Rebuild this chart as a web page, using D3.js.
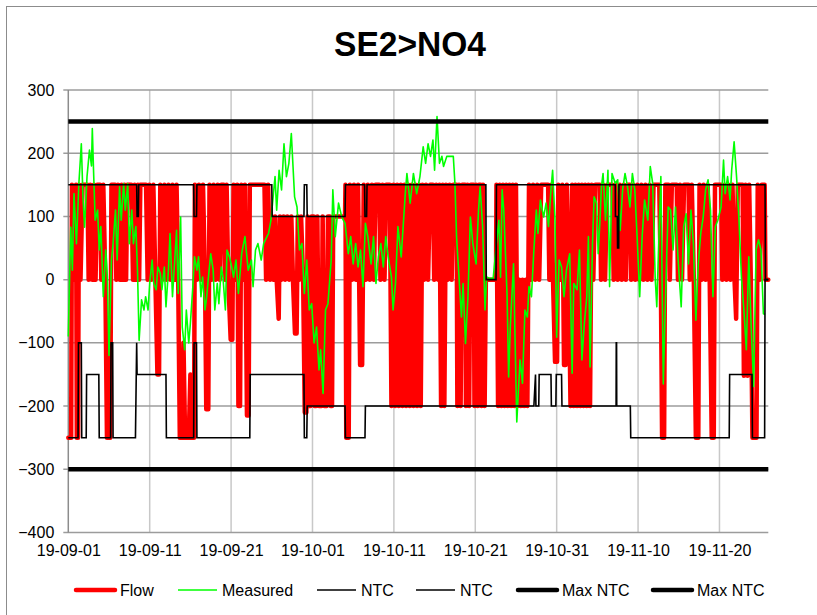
<!DOCTYPE html>
<html><head><meta charset="utf-8">
<script src="https://cdn.jsdelivr.net/npm/d3@7"></script>
<style>
html,body{margin:0;padding:0;background:#fff;}
svg{display:block;}
text{font-family:"Liberation Sans",Arial,sans-serif;}
</style></head>
<body>
<svg id="chart" width="817" height="615"></svg>
<script>
// ---------- DATA ----------
const title = "SE2>NO4";
const startDate = "19-09-01";
const endDay = 86;
const xTickLabels = ["19-09-01","19-09-11","19-09-21","19-10-01","19-10-11","19-10-21","19-10-31","19-11-10","19-11-20"];
const yTicks = [-400,-300,-200,-100,0,100,200,300];
const seriesNames = ["Flow","Measured","NTC","NTC","Max NTC","Max NTC"];
const seriesColors = ["#ff0000","#00ff00","#000000","#000000","#000000","#000000"];

// [day offset from 2019-09-01, MW]
const flow = [[0,-250],[0.35,-250],[0.45,150],[0.7,0],[0.95,150],[1.05,-250],[1.2,-250],[1.3,150],[1.5,0],[1.75,150],[2.35,150],[2.5,0],[2.7,150],[2.95,0],[3.15,150],[3.35,0],[3.55,150],[3.9,150],[4.05,0],[4.3,150],[4.55,0],[4.75,-250],[5.15,-250],[5.3,150],[5.75,150],[5.9,0],[6.1,150],[6.35,0],[6.55,150],[6.75,0],[6.9,150],[7.1,0],[7.25,150],[7.75,150],[7.95,0],[8.15,150],[8.35,0],[8.55,150],[8.7,0],[8.85,150],[9.55,150],[9.75,0],[9.95,150],[10.2,0],[10.45,150],[10.7,0],[10.95,-150],[11.15,-150],[11.3,150],[11.55,0],[11.8,150],[12.05,0],[12.3,150],[12.55,0],[12.8,150],[13.05,0],[13.3,150],[13.5,0],[13.7,-250],[14.0,-250],[14.15,-100],[14.35,-250],[14.8,-250],[15.0,-150],[15.15,-250],[15.45,-250],[15.55,150],[15.8,0],[16.05,150],[16.3,0],[16.55,150],[16.8,0],[16.95,-205],[17.2,-205],[17.35,150],[17.6,0],[17.85,150],[18.1,0],[18.35,150],[18.6,0],[18.8,150],[19.1,150],[19.25,0],[19.45,150],[19.65,0],[19.95,-95],[20.15,-95],[20.3,150],[20.55,0],[20.75,150],[20.9,-200],[21.1,-200],[21.25,150],[21.5,0],[21.7,150],[21.95,-215],[22.15,-215],[22.3,150],[24.1,150],[24.3,0],[24.55,150],[24.8,0],
[25.0,100],[25.2,0],[25.4,100],[25.6,0],[25.85,-62],[26.0,100],[26.2,0],[26.45,100],[26.65,0],[26.9,100],[27.15,0],[27.4,100],[27.6,0],[27.85,-85],[28.05,-85],[28.2,100],[28.4,0],[28.6,100],[28.85,0],[29.05,-210],[29.25,-210],[29.4,100],[29.55,-200],[29.75,-200],[29.9,100],[30.15,100],[30.25,-200],[30.45,-200],[30.6,100],[30.8,-200],[31.1,-200],[31.25,100],[31.45,-200],[31.75,-200],[31.9,100],[32.15,100],[32.25,-200],[32.4,-200],[32.55,100],[34.0,100],
[34.05,150],[34.15,-250],[34.45,-250],[34.6,150],[34.85,0],[35.1,150],[35.35,0],[35.6,150],[35.85,-135],[36.1,-135],[36.3,150],[36.55,0],[36.8,150],[37.05,0],[37.3,150],[37.55,0],[37.75,150],[38.2,150],[38.35,0],[38.6,150],[38.85,0],[39.05,150],[39.5,150],[39.7,-200],[39.95,150],[40.15,-200],[40.4,150],[40.6,-200],[40.85,150],[41.05,-200],[41.3,150],[41.5,-200],[41.75,150],[41.95,-200],[42.2,150],[42.4,-200],[42.65,150],[42.85,-200],[43.1,150],[43.3,-200],[43.5,150],[43.7,0],[43.95,150],[44.2,0],[44.45,150],[44.8,150],[44.95,0],[45.2,150],[45.45,0],[45.6,150],[45.8,-200],[46.0,150],[46.2,-200],[46.4,150],[46.6,0],[46.85,150],[47.1,0],[47.3,150],[47.7,150],[47.8,-200],[48.0,150],[48.2,-200],[48.4,150],[48.75,150],[48.85,-200],[49.05,150],[49.25,-200],[49.45,150],[49.8,150],[49.9,-200],[50.1,150],[50.3,-200],[50.45,150],[50.65,150],[50.75,-200],[50.95,150],[51.15,-200],[51.3,0],[52.55,0],
[52.6,150],[52.8,-200],[53.0,150],[53.2,-200],[53.4,150],[53.6,-200],[53.8,150],[54.0,-200],[54.2,150],[54.4,-200],[54.6,150],[54.8,-200],[55.0,150],[55.2,-200],[55.4,0],[55.6,-200],[55.8,0],[56.0,-200],[56.2,0],[56.4,-200],[56.6,150],[56.85,0],[57.1,150],[57.35,0],[57.6,150],[57.85,0],[58.1,150],[58.95,150],[59.1,0],[59.35,150],[59.55,0],[59.8,-130],[60.05,-130],[60.2,150],[60.45,0],[60.7,150],[60.9,-135],[61.1,-135],[61.25,150],[61.5,0],[61.7,-200],[61.9,150],[62.1,-200],[62.3,150],[62.5,-200],[62.7,150],[62.9,-200],[63.1,150],[63.3,-200],[63.5,150],[63.7,-200],[63.9,150],[64.1,-200],[64.3,150],[64.5,0],[64.75,150],[65.3,150],[65.45,0],[65.7,150],[65.95,0],[66.2,150],[66.85,150],[67.0,0],[67.25,150],[67.5,0],[67.75,150],[68.0,0],[68.25,150],[68.5,0],[68.7,150],[69.0,150],[69.15,0],[69.4,150],[69.65,0],[69.9,150],[70.15,0],[70.4,150],[70.65,0],[70.9,150],[71.15,0],[71.4,150],[71.65,0],[71.9,150],[72.6,150],[72.8,0],[72.95,-250],[73.2,-250],[73.35,150],[73.75,150],[73.9,0],[74.15,150],[74.75,150],[74.9,0],[75.15,150],[75.4,0],[75.65,150],[76.2,150],[76.35,0],[76.6,150],[76.85,0],[77.1,-250],[77.4,-250],[77.55,150],[77.8,0],[78.05,150],[78.3,0],[78.55,150],[78.8,0],[79.05,-250],[79.3,-250],[79.45,150],[80.2,150],[80.35,0],[80.6,150],[80.85,0],[81.1,150],[81.35,0],[81.6,150],[81.85,0],[82.05,-62],[82.25,150],[82.85,150],[83.0,-152],[83.2,150],[83.45,-152],[83.65,150],[83.85,0],[84.05,-250],[84.55,-250],[84.7,150],[84.95,0],[85.2,150],[85.55,150],[85.65,0],[86,0]];

const measured = [[0,-90],[0.3,83],[0.5,15],[0.7,136],[1.0,57],[1.3,152],[1.6,215],[1.8,131],[2.0,83],[2.3,163],[2.6,205],[2.85,180],[2.95,239],[3.1,173],[3.3,94],[3.6,110],[3.8,47],[4.0,84],[4.3,-27],[4.6,47],[4.8,4],[5.0,-120],[5.3,31],[5.5,57],[5.8,110],[6.0,31],[6.3,147],[6.5,94],[6.8,152],[7.0,110],[7.3,152],[7.5,57],[7.8,110],[8.0,57],[8.3,84],[8.5,15],[8.7,-96],[9.0,-32],[9.3,-48],[9.5,-27],[9.8,-48],[10.0,-6],[10.3,31],[10.5,-6],[10.8,-16],[11.0,20],[11.3,10],[11.5,-16],[11.8,20],[12.0,-43],[12.3,15],[12.5,73],[12.8,-27],[13.0,15],[13.3,78],[13.5,-22],[13.8,99],[14.0,-75],[14.3,-111],[14.5,-48],[14.8,-100],[15.0,-69],[15.3,-11],[15.5,36],[15.8,15],[16.0,36],[16.3,-27],[16.5,4],[16.8,-48],[17.0,-27],[17.3,15],[17.5,41],[17.8,15],[18.0,-48],[18.3,-6],[18.5,-38],[18.8,20],[19.0,4],[19.3,-48],[19.5,47],[19.8,36],[20.0,25],[20.3,4],[20.6,31],[20.9,-22],[21.3,41],[21.7,68],[22.1,15],[22.5,31],[22.7,-11],[23.0,47],[23.3,57],[23.7,31],[24.0,57],[24.4,68],[24.6,73],[24.9,94],[25.2,136],[25.4,163],[25.6,110],[25.9,173],[26.2,142],[26.5,215],[26.8,163],[27.1,184],[27.4,231],[27.8,131],[28.1,115],[28.4,47],[28.7,57],[29.0,-22],[29.3,31],[29.6,-48],[29.9,-38],[30.2,-100],[30.5,-75],[30.8,-143],[31.0,-111],[31.3,-180],[31.6,-48],[31.9,-38],[32.3,31],[32.5,142],[32.8,68],[33.2,121],[33.6,99],[34.0,89],[34.4,41],[34.7,68],[35.0,25],[35.3,57],[35.6,20],[35.9,47],[36.2,-11],[36.5,89],[36.8,68],[37.2,25],[37.5,68],[37.8,-6],[38.1,36],[38.4,57],[38.7,20],[39.0,68],[39.3,36],[39.7,4],[39.9,-48],[40.2,-6],[40.5,84],[40.9,36],[41.4,136],[41.6,168],[42.0,121],[42.4,168],[42.8,136],[43.2,163],[43.6,210],[43.9,184],[44.2,215],[44.5,195],[44.8,221],[45.0,173],[45.3,258],[45.6,184],[45.9,195],[46.1,179],[46.5,195],[46.9,195],[47.3,195],[47.5,152],[47.7,68],[48.0,4],[48.3,-59],[48.5,-6],[48.8,-101],[49.1,-27],[49.4,99],[49.7,57],[50.1,25],[50.4,110],[50.6,147],[50.9,84],[51.2,-48],[51.4,4],[51.8,2],[52.2,2],[52.6,57],[52.9,94],[53.1,4],[53.3,142],[53.5,110],[53.9,-22],[54.1,-154],[54.3,-75],[54.7,25],[54.9,-101],[55.1,-225],[55.5,-127],[55.8,-164],[56.1,-48],[56.4,-59],[56.6,-11],[56.9,-27],[57.2,47],[57.5,110],[57.7,73],[58.0,126],[58.4,99],[58.7,121],[59.0,84],[59.3,142],[59.5,173],[59.8,94],[60.0,-91],[60.3,31],[60.6,20],[60.9,-27],[61.2,15],[61.6,41],[61.9,-148],[62.1,-6],[62.5,-16],[62.8,47],[63.1,-127],[63.4,-69],[63.7,-27],[63.9,68],[64.1,-138],[64.4,57],[64.6,131],[64.9,121],[65.1,41],[65.3,89],[65.5,147],[65.7,168],[66.0,94],[66.3,173],[66.5,-11],[66.8,168],[67.2,152],[67.5,158],[67.8,78],[68.1,142],[68.4,168],[68.7,147],[69.0,115],[69.3,168],[69.6,142],[69.9,63],[70.2,-27],[70.5,68],[70.8,126],[71.2,94],[71.5,179],[71.8,152],[72.1,4],[72.3,-43],[72.6,84],[72.8,163],[73.1,-165],[73.4,-16],[73.7,115],[74.0,110],[74.3,47],[74.6,115],[74.9,36],[75.3,-43],[75.6,84],[75.9,104],[76.2,25],[76.5,110],[76.8,57],[77.1,-64],[77.4,25],[77.7,73],[78.0,99],[78.3,142],[78.6,158],[78.9,110],[79.2,-27],[79.5,84],[79.8,94],[80.2,115],[80.5,189],[80.7,136],[81.0,163],[81.3,126],[81.5,173],[81.8,218],[82.1,163],[82.4,94],[82.7,4],[83.0,-48],[83.3,-111],[83.6,36],[83.9,-75],[84.2,-169],[84.5,47],[84.8,63],[85.1,47],[85.4,-54],[85.6,-55]];

const ntcExport = [[0,150],[8.4,150],[8.45,100],[8.6,100],[8.65,150],[15.4,150],[15.45,100],[15.75,100],[15.8,150],[25.0,150],[25.05,100],[28.95,100],[29.0,150],[29.3,150],[29.35,100],[34.0,100],[34.05,150],[36.4,150],[36.45,100],[36.65,100],[36.7,150],[51.3,150],[51.35,0],[52.55,0],[52.6,150],[67.2,150],[67.22,100],[67.45,100],[67.48,50],[67.62,50],[67.65,150],[85.6,150],[85.65,0],[86,0]];

const ntcImport = [[0,-250],[1.2,-250],[1.25,-100],[1.6,-100],[1.65,-250],[2.2,-250],[2.25,-150],[3.75,-150],[3.8,-250],[5.2,-250],[5.25,-100],[5.45,-100],[5.5,-250],[8.25,-250],[8.4,-100],[8.45,-150],[12.0,-150],[12.05,-250],[15.4,-250],[15.45,-100],[15.75,-100],[15.8,-250],[22.3,-250],[22.35,-150],[28.95,-150],[29.0,-250],[29.3,-250],[29.35,-200],[34.0,-200],[34.05,-250],[36.45,-250],[36.5,-200],[57.2,-200],[57.4,-150],[57.45,-200],[57.8,-200],[57.85,-150],[59.3,-150],[59.35,-200],[59.9,-200],[59.95,-150],[60.6,-150],[60.65,-200],[67.3,-200],[67.32,-100],[67.36,-100],[67.38,-200],[69.05,-200],[69.1,-250],[81.2,-250],[81.25,-150],[84.0,-150],[84.05,-250],[85.55,-250],[85.6,0],[86,0]];

const maxNtcExport = [[0,250],[86,250]];
const maxNtcImport = [[0,-300],[86,-300]];

// ---------- CHART ----------
const svg = d3.select("#chart");
const parse = d3.utcParse("%y-%m-%d");
const t0 = parse(startDate);
const dayMs = 86400000;
const toDate = d => new Date(t0.getTime() + d * dayMs);

const L = 68.3, R = 768.3, T = 90, B = 532.5;
const x = d3.scaleUtc().domain([t0, toDate(endDay)]).range([L, R]);
const y = d3.scaleLinear().domain([-400, 300]).range([B, T]);

// outer border (only left/top visible)
svg.append("rect").attr("x", 6.5).attr("y", 6.5).attr("width", 840).attr("height", 640)
  .attr("fill", "none").attr("stroke", "#8c8c8c").attr("stroke-width", 1);

// title
svg.append("text").attr("x", 410).attr("y", 56).attr("text-anchor", "middle")
  .attr("textLength", 152).attr("lengthAdjust", "spacingAndGlyphs")
  .style("font-weight", "bold").style("font-size", "35px").text(title);

const xTicks = xTickLabels.map(parse);

// grid
const g = svg.append("g");
g.selectAll("line.vg").data(xTicks.slice(1)).join("line")
  .attr("x1", d => x(d)).attr("x2", d => x(d)).attr("y1", T).attr("y2", B)
  .attr("stroke", "#c8c8c8").attr("stroke-width", 1.5);
g.selectAll("line.hg").data(yTicks).join("line")
  .attr("x1", L - 5).attr("x2", R).attr("y1", d => y(d)).attr("y2", d => y(d))
  .attr("stroke", "#9c9c9c").attr("stroke-width", 1.5);
g.append("line").attr("x1", L).attr("x2", L).attr("y1", T).attr("y2", B)
  .attr("stroke", "#8c8c8c").attr("stroke-width", 1.5);

// axes labels
const yAxis = svg.append("g").attr("transform", `translate(${L},0)`)
  .call(d3.axisLeft(y).tickValues(yTicks).tickSize(0).tickPadding(14).tickFormat(d3.format("d")));
yAxis.select(".domain").remove();
yAxis.selectAll("text").style("font-size", "16px").attr("fill", "#000");

const xAxis = svg.append("g").attr("transform", `translate(0,${B})`)
  .call(d3.axisBottom(x).tickValues(xTicks).tickSize(0).tickPadding(12).tickFormat(d3.utcFormat("%y-%m-%d")));
xAxis.select(".domain").remove();
xAxis.selectAll("text").style("font-size", "16px").attr("fill", "#000");

// lines
const line = d3.line().x(d => x(toDate(d[0]))).y(d => y(d[1]));
const plot = svg.append("g");
plot.append("path").datum(flow).attr("d", line).attr("fill", "none")
  .attr("stroke", seriesColors[0]).attr("stroke-width", 4.5).attr("stroke-linejoin", "round").attr("stroke-linecap", "round");
plot.append("path").datum(measured).attr("d", line).attr("fill", "none")
  .attr("stroke", seriesColors[1]).attr("stroke-width", 1.6).attr("stroke-linejoin", "round");
plot.append("path").datum(ntcExport).attr("d", line).attr("fill", "none")
  .attr("stroke", seriesColors[2]).attr("stroke-width", 1.6);
plot.append("path").datum(ntcImport).attr("d", line).attr("fill", "none")
  .attr("stroke", seriesColors[3]).attr("stroke-width", 1.6);
plot.append("path").datum(maxNtcExport).attr("d", line).attr("fill", "none")
  .attr("stroke", seriesColors[4]).attr("stroke-width", 4.5);
plot.append("path").datum(maxNtcImport).attr("d", line).attr("fill", "none")
  .attr("stroke", seriesColors[5]).attr("stroke-width", 4.5);

// legend
const legendX = [76, 178, 317, 416, 518, 653];
const legendW = [4.5, 1.6, 1.6, 1.6, 4.5, 4.5];
const ly = 590;
const lg = svg.append("g");
seriesNames.forEach((name, i) => {
  lg.append("line").attr("x1", legendX[i]).attr("x2", legendX[i] + 39).attr("y1", ly).attr("y2", ly)
    .attr("stroke", seriesColors[i]).attr("stroke-width", legendW[i])
    .attr("stroke-linecap", legendW[i] > 3 ? "round" : "butt");
  lg.append("text").attr("x", legendX[i] + 44).attr("y", ly + 6).style("font-size", "16px").text(name);
});
</script>
</body></html>
